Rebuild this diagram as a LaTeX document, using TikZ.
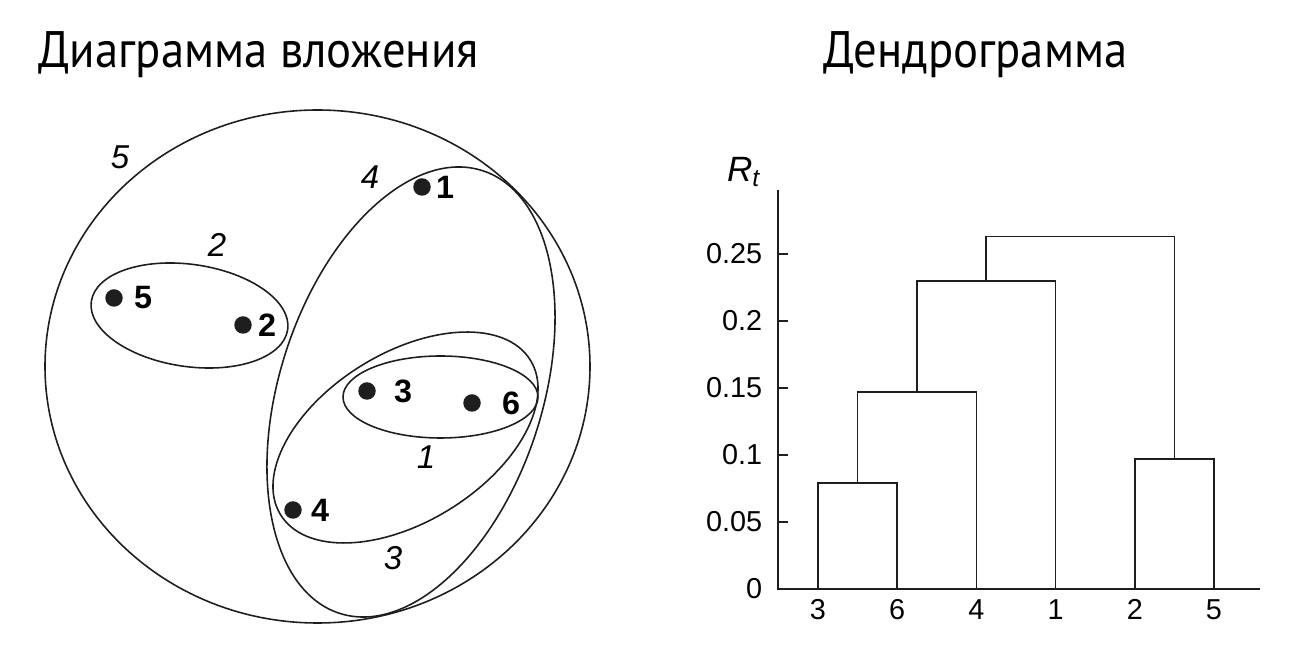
\documentclass[tikz,border=0pt]{standalone}
\usepackage{fontspec}
\setmainfont{Liberation Sans}
\newfontfamily\titlefont[FakeStretch=0.91]{PT Sans}
\usepackage{tikz}
\usetikzlibrary{positioning}
\definecolor{ink}{HTML}{1E1E1E}
\tikzset{
  setline/.style={draw=ink, line width=0.45pt},
  dot/.style={circle, fill=ink, inner sep=0pt, minimum size=0.175cm},
  ptlab/.style={font=\fontsize{9.2}{11}\selectfont\bfseries, inner sep=0pt},
  setlab/.style={font=\fontsize{9.4}{11}\selectfont\itshape, inner sep=0pt},
  ticklab/.style={font=\fontsize{8.2}{10}\selectfont, inner sep=0pt},
  titlelab/.style={font=\titlefont\fontsize{14.6}{17}\selectfont, inner sep=0pt, anchor=base west}
}

\begin{document}
\begin{tikzpicture}[line join=miter]
  \useasboundingbox (0,0) rectangle (12.98,6.58);

  \node[titlelab] (tleft) at (0.38,5.90) {Диаграмма вложения};
  \node[titlelab] (tright) at (8.23,5.90) {Дендрограмма};

  % nested clusters
  \draw[setline] (3.175,2.915) ellipse (2.725 and 2.565);
  \draw[setline, shift={(4.11,2.66)}, rotate=72.1] (0,0) ellipse (2.326 and 1.314);
  \draw[setline, shift={(4.055,2.205)}, rotate=31.8] (0,0) ellipse (1.469 and 0.843);
  \draw[setline] (4.405,2.61) ellipse (0.975 and 0.41);
  \draw[setline, shift={(1.895,3.425)}, rotate=-8.2] (0,0) ellipse (0.992 and 0.511);

  \node[setlab] (s5) at (1.20,5.01) {5};
  \node[setlab] (s4) at (3.70,4.81) {4};
  \node[setlab] (s2) at (2.17,4.13) {2};
  \node[setlab] (s1) at (4.26,2.01) {1};
  \node[setlab] (s3) at (3.93,1.00) {3};

  \foreach \n/\x/\y/\lx in {1/4.22/4.71/4.45, 2/2.43/3.33/2.67, 3/3.67/2.67/4.03,
                            4/2.93/1.48/3.20, 5/1.14/3.60/1.43, 6/4.72/2.55/5.11} {
    \node[dot] (p\n) at (\x,\y) {};
    \node[ptlab] (l\n) at (\lx,\y) {\n};
  }

  % dendrogram
  \node[font=\fontsize{10}{12}\selectfont\itshape, inner sep=0pt] (rt) at (7.44,4.86) {R\textsubscript{t}};
  \begin{scope}[shift={(7.78,0.69)}, y=13.4cm, draw=ink, line width=0.5pt]
    \draw (0,0.298) -- (0,0) -- (4.82,0);
    \foreach \v in {0,0.05,0.1,0.15,0.2,0.25} {
      \draw (0,\v) -- (0.1,\v);
      \node[ticklab, anchor=east] at (-0.15,\v) {\v};
    }
    \foreach \x/\lab in {0.40/3, 1.192/6, 1.984/4, 2.776/1, 3.568/2, 4.36/5}
      \node[ticklab, anchor=north, yshift=-0.1cm] (leaf\lab) at (\x,0) {\lab};
    \draw (0.40,0) -- (0.40,0.079) -- (1.192,0.079) -- (1.192,0);
    \draw (0.796,0.079) -- (0.796,0.147) -- (1.984,0.147) -- (1.984,0);
    \draw (1.39,0.147) -- (1.39,0.230) -- (2.776,0.230) -- (2.776,0);
    \draw (3.568,0) -- (3.568,0.097) -- (4.36,0.097) -- (4.36,0);
    \draw (2.083,0.230) -- (2.083,0.263) -- (3.964,0.263) -- (3.964,0.097);
  \end{scope}
\end{tikzpicture}
\end{document}
